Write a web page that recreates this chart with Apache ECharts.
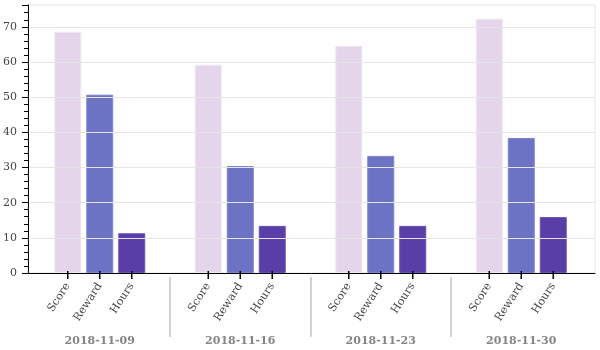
<!DOCTYPE html>
<html><head><meta charset="utf-8">
<script src="https://cdn.jsdelivr.net/npm/echarts@6/dist/echarts.min.js"></script>
<style>html,body{margin:0;padding:0;background:#fff}#c{width:600px;height:350px}</style>
</head><body><div id="c"></div>
<script>
const dates = ['2018-11-09', '2018-11-16', '2018-11-23', '2018-11-30'];
const factors = ['Score', 'Reward', 'Hours'];
const score = [68.6, 59.2, 64.6, 72.3];
const reward = [50.7, 30.4, 33.3, 38.4];
const hours = [11.3, 13.4, 13.4, 15.9];
const yMax = 76.2;

const values = [score, reward, hours];
const colors = ['#e5d5eb', '#6c73c4', '#5a3ea7'];
const borders = ['#efe7f3', '#7d84cd', '#6a52b2'];
const FONT = 'DejaVu Serif';

const series = factors.map((name, k) => ({
  type: 'bar', name, xAxisIndex: 1, yAxisIndex: 1,
  data: values[k], barWidth: 27, barGap: '18.5%',
  itemStyle: { color: colors[k], borderColor: borders[k], borderWidth: 1 },
  label: {
    show: true, position: 'bottom', distance: 11, rotate: 57,
    align: 'right', verticalAlign: 'middle',
    formatter: name, fontFamily: FONT, fontSize: 11, color: '#444'
  },
  markPoint: {
    symbol: 'rect', symbolSize: [1.5, 8], symbolOffset: [0, 2], z: 10,
    itemStyle: { color: '#000' }, label: { show: false },
    data: dates.map(d => ({ coord: [d, 0] })), silent: true
  }
}));

const chart = echarts.init(document.getElementById('c'), null, { renderer: 'canvas' });
chart.setOption({
  animation: false,
  grid: [
    { left: 26, right: 5, top: 5, bottom: 77, show: true, borderColor: '#e5e5e5', borderWidth: 1 },
    { left: 29.5, right: 8.5, top: 5, bottom: 77 },
    { left: 29.5, right: 8.5, top: 277, height: 60 }
  ],
  xAxis: [
    { gridIndex: 0, type: 'value', min: 0, max: 1, z: 5,
      axisLine: { show: true, lineStyle: { color: '#000', width: 1 } },
      axisTick: { show: false }, axisLabel: { show: false }, splitLine: { show: false } },
    { gridIndex: 1, type: 'category', data: dates,
      axisLine: { show: false }, axisTick: { show: false }, splitLine: { show: false },
      axisLabel: { margin: 63, fontFamily: FONT, fontSize: 11, fontWeight: 'bold', color: '#858585' } },
    { gridIndex: 2, type: 'category', data: dates,
      axisLine: { show: false }, axisTick: { show: false }, axisLabel: { show: false },
      splitLine: { show: true, showMinLine: false, showMaxLine: false, lineStyle: { color: '#d3d3d3', width: 2 } } }
  ],
  yAxis: [
    { gridIndex: 0, type: 'value', min: 0, max: yMax, interval: 10, z: 5,
      axisLine: { show: true, lineStyle: { color: '#000' } },
      axisTick: { show: true, length: 6, lineStyle: { color: '#000' } },
      minorTick: { show: true, splitNumber: 5, length: 4, lineStyle: { color: '#000' } },
      axisLabel: { showMaxLabel: false, margin: 11, fontFamily: FONT, fontSize: 11, color: '#444' },
      splitLine: { show: true, showMaxLine: false, lineStyle: { color: '#e5e5e5' } } },
    { gridIndex: 1, type: 'value', min: 0, max: yMax, show: false },
    { gridIndex: 2, type: 'value', min: 0, max: 1, show: false }
  ],
  series
});
</script></body></html>
